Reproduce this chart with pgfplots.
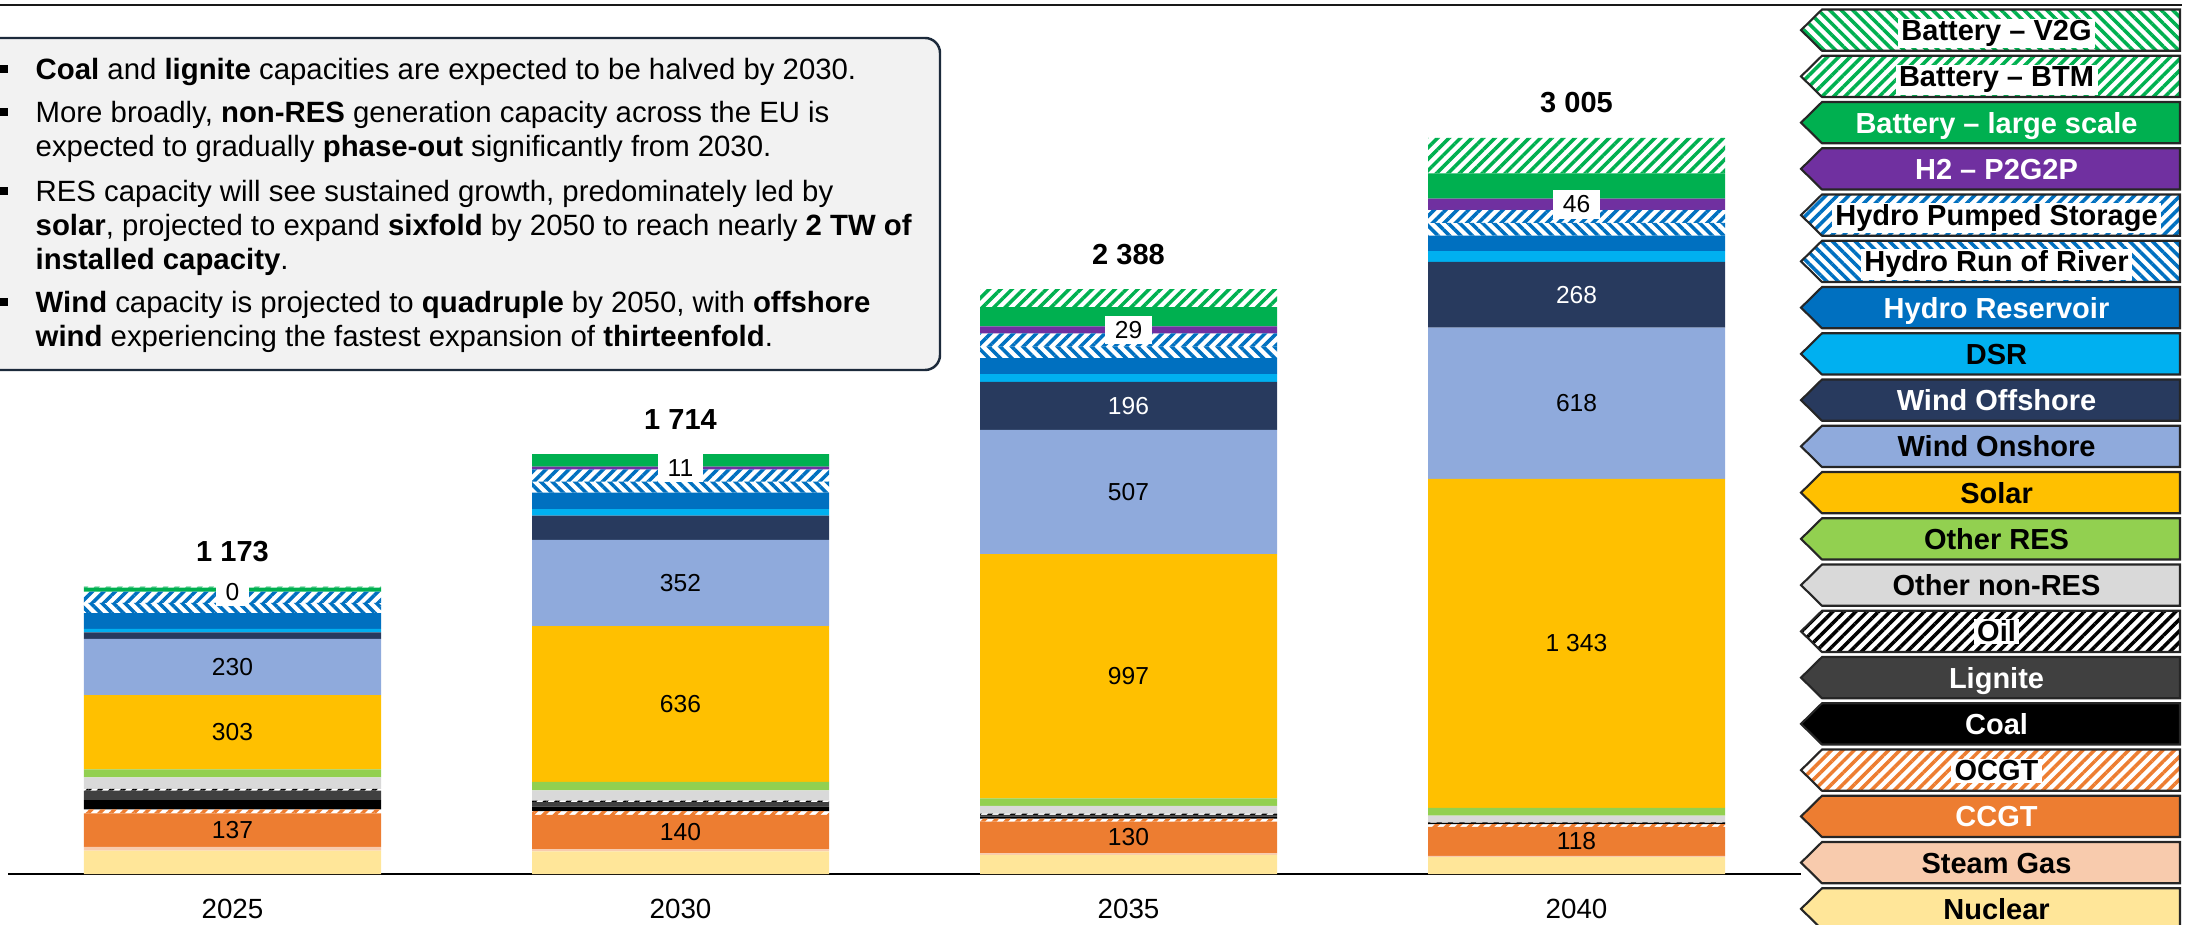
\documentclass[border=0pt]{standalone}
\usepackage{fontspec}
\setmainfont{Liberation Sans}
\usepackage{pgfplots}
\usepackage{pgfplotstable}
\pgfplotsset{compat=1.18}
\usetikzlibrary{patterns.meta}

\definecolor{cNuc}{HTML}{FFE699}
\definecolor{cSG}{HTML}{F8CBAD}
\definecolor{cCCGT}{HTML}{ED7D31}
\definecolor{cLig}{HTML}{404040}
\definecolor{cONR}{HTML}{D9D9D9}
\definecolor{cORES}{HTML}{92D050}
\definecolor{cSolar}{HTML}{FFC000}
\definecolor{cWOn}{HTML}{8FAADC}
\definecolor{cWOff}{HTML}{283A5E}
\definecolor{cDSR}{HTML}{00B0F0}
\definecolor{cHydro}{HTML}{0070C0}
\definecolor{cH2}{HTML}{7030A0}
\definecolor{cBat}{HTML}{00B050}
\definecolor{cBox}{HTML}{F2F2F2}
\definecolor{cBoxEdge}{HTML}{1C2A3B}

\tikzset{
  hatchNE/.style={pattern={Lines[angle=45,distance=2.3pt,line width=1pt]}},
  hatchNW/.style={pattern={Lines[angle=-45,distance=2.3pt,line width=1pt]}},
}

\newcommand{\boxfont}{\fontsize{8.35}{9.7}\selectfont}
\newcommand{\legfont}{\fontsize{8.25}{9}\selectfont\bfseries}
\newcommand{\segfont}{\fontsize{7}{8}\selectfont}

\newcommand{\legentry}[4]{%
  \pgfmathsetmacro{\lt}{8.645-0.4625*#1}%
  \pgfmathsetmacro{\lb}{\lt-0.413}%
  \pgfmathsetmacro{\lm}{\lt-0.2065}%
  \path[#2] (17.925,\lm) -- (18.135,\lt) -- (21.715,\lt) -- (21.715,\lb) -- (18.135,\lb) -- cycle;
  \draw[line width=0.6pt, black!85] (17.925,\lm) -- (18.135,\lt) -- (21.715,\lt) -- (21.715,\lb) -- (18.135,\lb) -- cycle;
  \node[font=\legfont, anchor=base, #3] at (19.88,\lm-0.104) {#4};
}

\pgfplotstableread{
year nuc sg ccgt ocgt coal lig oil onr ores solar won woff dsr hres ror ps h2 bl btm v2g
2025 95 16 137 16 38 38 8 46 33 303 230 26 15 64 42 46 0 16 4 0
2030 92 9 140 16 18 18 7 41 35 636 352 99 27 67 45 50 11 51 0 0
2035 78 6 130 12 8 7 6 31 31 997 507 196 32 65 47 54 29 78 74 0
2040 69 5 118 12 4 2 2 26 32 1343 618 268 44 63 52 53 46 103 145 0
}\capdata

\begin{document}
\begin{tikzpicture}
\useasboundingbox (-0.085,-0.50) rectangle (21.805,8.74);

% top rule
\draw[line width=0.65pt, black!90] (-0.085,8.69) -- (21.735,8.69);

% text box
\draw[fill=cBox, draw=cBoxEdge, line width=0.7pt, rounded corners=0.15cm] (-0.4,8.36) rectangle (9.315,5.04);
\foreach \yb in {7.94,7.51,6.72,5.61} {\fill[black] (-0.085,\yb+0.07) rectangle ++(0.08,0.08);}
\node[anchor=base west, inner sep=0, font=\boxfont] at (0.265,7.94) {\textbf{Coal} and \textbf{lignite} capacities are expected to be halved by 2030.};
\node[anchor=base west, inner sep=0, font=\boxfont] at (0.265,7.51) {More broadly, \textbf{non-RES} generation capacity across the EU is};
\node[anchor=base west, inner sep=0, font=\boxfont] at (0.265,7.17) {expected to gradually \textbf{phase-out} significantly from 2030.};
\node[anchor=base west, inner sep=0, font=\boxfont] at (0.265,6.72) {RES capacity will see sustained growth, predominately led by};
\node[anchor=base west, inner sep=0, font=\boxfont] at (0.265,6.38) {\textbf{solar}, projected to expand \textbf{sixfold} by 2050 to reach nearly \textbf{2 TW of}};
\node[anchor=base west, inner sep=0, font=\boxfont] at (0.265,6.04) {\textbf{installed capacity}.};
\node[anchor=base west, inner sep=0, font=\boxfont] at (0.265,5.61) {\textbf{Wind} capacity is projected to \textbf{quadruple} by 2050, with \textbf{offshore}};
\node[anchor=base west, inner sep=0, font=\boxfont] at (0.265,5.27) {\textbf{wind} experiencing the fastest expansion of \textbf{thirteenfold}.};

\begin{axis}[
  at={(0,0)}, anchor=south west,
  scale only axis, width=17.92cm, height=8.69cm,
  xmin=2022.5, xmax=2042.5, ymin=0, ymax=3548,
  ybar stacked, bar width=2.97cm,
  axis x line*=bottom, axis y line=none,
  x axis line style={line width=0.75pt, black},
  xtick={2025,2030,2035,2040}, ytick=\empty, major tick length=0pt,
  xticklabel style={font=\fontsize{7.9}{9}\selectfont, anchor=center, yshift=-0.35cm, /pgf/number format/1000 sep={}},
  /pgf/number format/assume math mode=true,
]
\addplot[fill=cNuc, draw=none] table[x=year, y=nuc] {\capdata};
\addplot[fill=cSG, draw=none] table[x=year, y=sg] {\capdata};
\addplot[fill=cCCGT, draw=none] table[x=year, y=ccgt] {\capdata};
\addplot[hatchNE, pattern color=cCCGT, draw=none] table[x=year, y=ocgt] {\capdata};
\addplot[fill=black, draw=none] table[x=year, y=coal] {\capdata};
\addplot[fill=cLig, draw=none] table[x=year, y=lig] {\capdata};
\addplot[hatchNE, pattern color=black, draw=none] table[x=year, y=oil] {\capdata};
\addplot[fill=cONR, draw=none] table[x=year, y=onr] {\capdata};
\addplot[fill=cORES, draw=none] table[x=year, y=ores] {\capdata};
\addplot[fill=cSolar, draw=none] table[x=year, y=solar] {\capdata};
\addplot[fill=cWOn, draw=none] table[x=year, y=won] {\capdata};
\addplot[fill=cWOff, draw=none] table[x=year, y=woff] {\capdata};
\addplot[fill=cDSR, draw=none] table[x=year, y=dsr] {\capdata};
\addplot[fill=cHydro, draw=none] table[x=year, y=hres] {\capdata};
\addplot[hatchNW, pattern color=cHydro, draw=none] table[x=year, y=ror] {\capdata};
\addplot[hatchNE, pattern color=cHydro, draw=none] table[x=year, y=ps] {\capdata};
\addplot[fill=cH2, draw=none] table[x=year, y=h2] {\capdata};
\addplot[fill=cBat, draw=none] table[x=year, y=bl] {\capdata};
\addplot[hatchNE, pattern color=cBat, draw=none] table[x=year, y=btm] {\capdata};
\addplot[hatchNW, pattern color=cBat, draw=none] table[x=year, y=v2g] {\capdata};
\end{axis}

\begin{axis}[
  at={(0,0)}, anchor=south west,
  scale only axis, width=17.92cm, height=8.69cm,
  xmin=2022.5, xmax=2042.5, ymin=0, ymax=3548,
  hide axis, clip=false,
  point meta=explicit symbolic, nodes near coords,
]
% CCGT
\addplot[draw=none, mark=none, every node near coord/.append style={anchor=center, font=\segfont, text=black}]
  coordinates {(2025,179.5) [137] (2030,171) [140] (2035,149) [130] (2040,133) [118]};
% Solar
\addplot[draw=none, mark=none, every node near coord/.append style={anchor=center, font=\segfont, text=black}]
  coordinates {(2025,578.5) [303] (2030,694) [636] (2035,807.5) [997] (2040,941.5) [1~343]};
% Wind onshore
\addplot[draw=none, mark=none, every node near coord/.append style={anchor=center, font=\segfont, text=black}]
  coordinates {(2025,845) [230] (2030,1188) [352] (2035,1559.5) [507] (2040,1922) [618]};
% Wind offshore
\addplot[draw=none, mark=none, every node near coord/.append style={anchor=center, font=\segfont, text=white}]
  coordinates {(2035,1911) [196] (2040,2365) [268]};
% H2
\addplot[draw=none, mark=none, every node near coord/.append style={anchor=center, font=\segfont, text=black, fill=white, inner xsep=2.8pt, inner ysep=1.6pt}]
  coordinates {(2025,1153) [0] (2030,1657.5) [11] (2035,2221.5) [29] (2040,2734) [46]};
% Totals
\addplot[draw=none, mark=none, every node near coord/.append style={anchor=center, yshift=0.35cm, font=\fontsize{8.25}{9}\selectfont\bfseries, text=black}]
  coordinates {(2025,1173) [1~173] (2030,1714) [1~714] (2035,2388) [2~388] (2040,3005) [3~005]};
\end{axis}

% legend
\legentry{0}{hatchNW, pattern color=cBat}{text=black, fill=white, inner xsep=1pt, inner ysep=0.5pt}{Battery – V2G}
\legentry{1}{hatchNE, pattern color=cBat}{text=black, fill=white, inner xsep=1pt, inner ysep=0.5pt}{Battery – BTM}
\legentry{2}{fill=cBat}{text=white}{Battery – large scale}
\legentry{3}{fill=cH2}{text=white}{H2 – P2G2P}
\legentry{4}{hatchNE, pattern color=cHydro}{text=black, fill=white, inner xsep=1pt, inner ysep=0.5pt}{Hydro Pumped Storage}
\legentry{5}{hatchNW, pattern color=cHydro}{text=black, fill=white, inner xsep=1pt, inner ysep=0.5pt}{Hydro Run of River}
\legentry{6}{fill=cHydro}{text=white}{Hydro Reservoir}
\legentry{7}{fill=cDSR}{text=black}{DSR}
\legentry{8}{fill=cWOff}{text=white}{Wind Offshore}
\legentry{9}{fill=cWOn}{text=black}{Wind Onshore}
\legentry{10}{fill=cSolar}{text=black}{Solar}
\legentry{11}{fill=cORES}{text=black}{Other RES}
\legentry{12}{fill=cONR}{text=black}{Other non-RES}
\legentry{13}{hatchNE, pattern color=black}{text=black, fill=white, inner xsep=1pt, inner ysep=0.5pt}{Oil}
\legentry{14}{fill=cLig}{text=white}{Lignite}
\legentry{15}{fill=black}{text=white}{Coal}
\legentry{16}{hatchNE, pattern color=cCCGT}{text=black, fill=white, inner xsep=1pt, inner ysep=0.5pt}{OCGT}
\legentry{17}{fill=cCCGT}{text=white}{CCGT}
\legentry{18}{fill=cSG}{text=black}{Steam Gas}
\legentry{19}{fill=cNuc}{text=black}{Nuclear}
\end{tikzpicture}
\end{document}
